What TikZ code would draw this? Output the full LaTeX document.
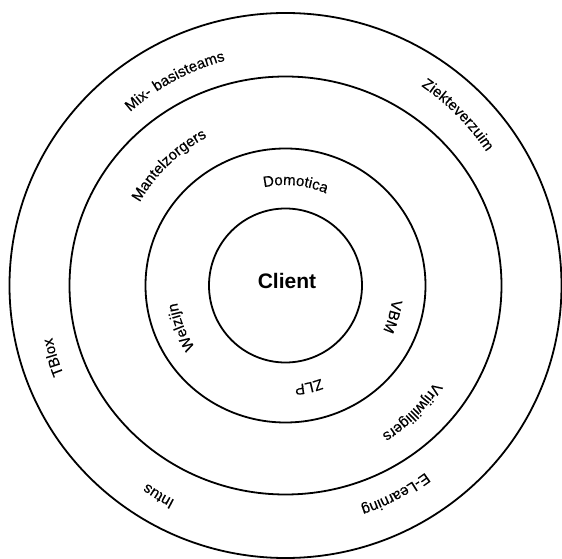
\documentclass[tikz,border=0pt]{standalone}
\usepackage{fontspec}
\setmainfont{Liberation Sans}
\newfontfamily\lblfam{Liberation Sans}[LetterSpace=5, FakeBold=0.3]
\usetikzlibrary{decorations.text}
\newcommand\lblfont{\lblfam\fontsize{15}{18}\selectfont}
\tikzset{
  ring/.style={draw=black, line width=1.8pt},
  ringlabel/.style={decorate, decoration={text along path, text align=center, text={|\lblfont|#1}}}
}
\begin{document}
\begin{tikzpicture}
\useasboundingbox[fill=white] (-285.5pt,-273.5pt) rectangle (276.5pt,285.5pt);
% rings
\draw[ring] (0,0) ellipse [x radius=276pt, y radius=272.5pt];
\draw[ring] (0,0) ellipse [x radius=216pt, y radius=209pt];
\draw[ring] (0,0) ellipse [x radius=140pt, y radius=137pt];
\draw[ring] (0,0) ellipse [x radius=76.5pt, y radius=77pt];
\node[font=\fontsize{21}{24}\selectfont\bfseries] (client) at (1.5pt,4.5pt) {Client};
% labels along arcs (clockwise, tops outward)
\path[ringlabel={Mix- basisteams}] (168.4:232.8pt) arc[start angle=168.4, end angle=68.4, radius=232.8pt];
\path[ringlabel={Ziekteverzuim}] (94.7:241.3pt) arc[start angle=94.7, end angle=-5.3, radius=241.3pt];
\path[ringlabel={Mantelzorgers}] (184.1:167.8pt) arc[start angle=184.1, end angle=84.1, radius=167.8pt];
\path[ringlabel={Domotica}] (134.3:100.5pt) arc[start angle=134.3, end angle=34.3, radius=100.5pt];
\path[ringlabel={Welzijn}] (251.7:109.6pt) arc[start angle=251.7, end angle=151.7, radius=109.6pt];
\path[ringlabel={VBM}] (33.8:107.5pt) arc[start angle=33.8, end angle=-66.2, radius=107.5pt];
\path[ringlabel={ZLP}] (-27.1:99.7pt) arc[start angle=-27.1, end angle=-127.1, radius=99.7pt];
\path[ringlabel={Vrijwilligers}] (5:177.5pt) arc[start angle=5, end angle=-95, radius=177.5pt];
\path[ringlabel={Intus}] (288.9:241.5pt) arc[start angle=288.9, end angle=188.9, radius=241.5pt];
\path[ringlabel={E-Learning}] (-12.2:233.5pt) arc[start angle=-12.2, end angle=-112.2, radius=233.5pt];
\path[ringlabel={TBlox}] (247.2:239pt) arc[start angle=247.2, end angle=147.2, radius=239pt];
\end{tikzpicture}
\end{document}
